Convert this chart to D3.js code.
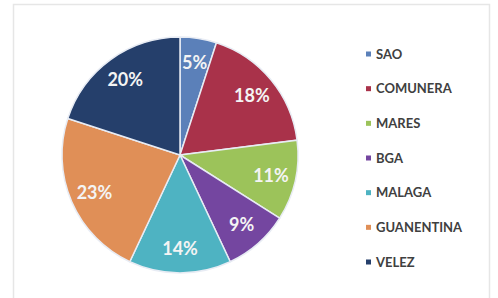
<!DOCTYPE html>
<html>
<head>
<meta charset="utf-8">
<script src="https://d3js.org/d3.v7.min.js"></script>
<style>
  body { margin: 0; background: #fff; }
  svg { display: block; }
</style>
</head>
<body>
<div id="chart"></div>
<script>
// datos del gráfico
const categories = ["SAO", "COMUNERA", "MARES", "BGA", "MALAGA", "GUANENTINA", "VELEZ"];
const values = [5, 18, 11, 9, 14, 23, 20];
const colors = ["#5b80b9", "#a9324a", "#9cc35a", "#7446a0", "#4eb3c2", "#e08f57", "#253f6b"];

const width = 498, height = 298;
const cx = 180, cy = 155, radius = 118;

const svg = d3.select("#chart").append("svg")
  .attr("width", width)
  .attr("height", height);

// marco del gráfico
svg.append("rect")
  .attr("x", 13.5).attr("y", 4.5)
  .attr("width", 476).attr("height", 300)
  .attr("fill", "#fff")
  .attr("stroke", "#e6e6e6")
  .attr("stroke-width", 1.5);

const color = d3.scaleOrdinal().domain(categories).range(colors);

const pie = d3.pie().value(d => d.value).sort(null);
const data = categories.map((c, i) => ({ name: c, value: values[i] }));
const arcs = pie(data);

const arc = d3.arc().innerRadius(0).outerRadius(radius);
const labelArc = d3.arc().innerRadius(radius * 0.79).outerRadius(radius * 0.79);

const g = svg.append("g").attr("transform", `translate(${cx},${cy})`);

g.selectAll("path")
  .data(arcs)
  .join("path")
  .attr("d", arc)
  .attr("fill", d => color(d.data.name))
  .attr("stroke", "#e8ecf4")
  .attr("stroke-width", 1.5);

g.selectAll("text")
  .data(arcs)
  .join("text")
  .attr("transform", d => `translate(${labelArc.centroid(d)})`)
  .attr("text-anchor", "middle")
  .attr("dy", "0.36em")
  .style("font-family", "Lato, 'Open Sans', sans-serif")
  .style("font-weight", "bold")
  .style("font-size", "18px")
  .attr("fill", "#f4f4f4")
  .text(d => d.data.value + "%");

// leyenda
const legendY = d3.scalePoint().domain(categories).range([54, 262]);

const legend = svg.append("g");
const items = legend.selectAll("g")
  .data(categories)
  .join("g")
  .attr("transform", d => `translate(366,${legendY(d)})`);

items.append("rect")
  .attr("x", 0).attr("y", -2.5)
  .attr("width", 5).attr("height", 5)
  .attr("fill", d => color(d));

items.append("text")
  .attr("x", 10)
  .attr("dy", "0.36em")
  .style("font-family", "Lato, 'Open Sans', sans-serif")
  .style("font-weight", "bold")
  .style("font-size", "13px")
  .attr("fill", "#404040")
  .text(d => d);
</script>
</body>
</html>
